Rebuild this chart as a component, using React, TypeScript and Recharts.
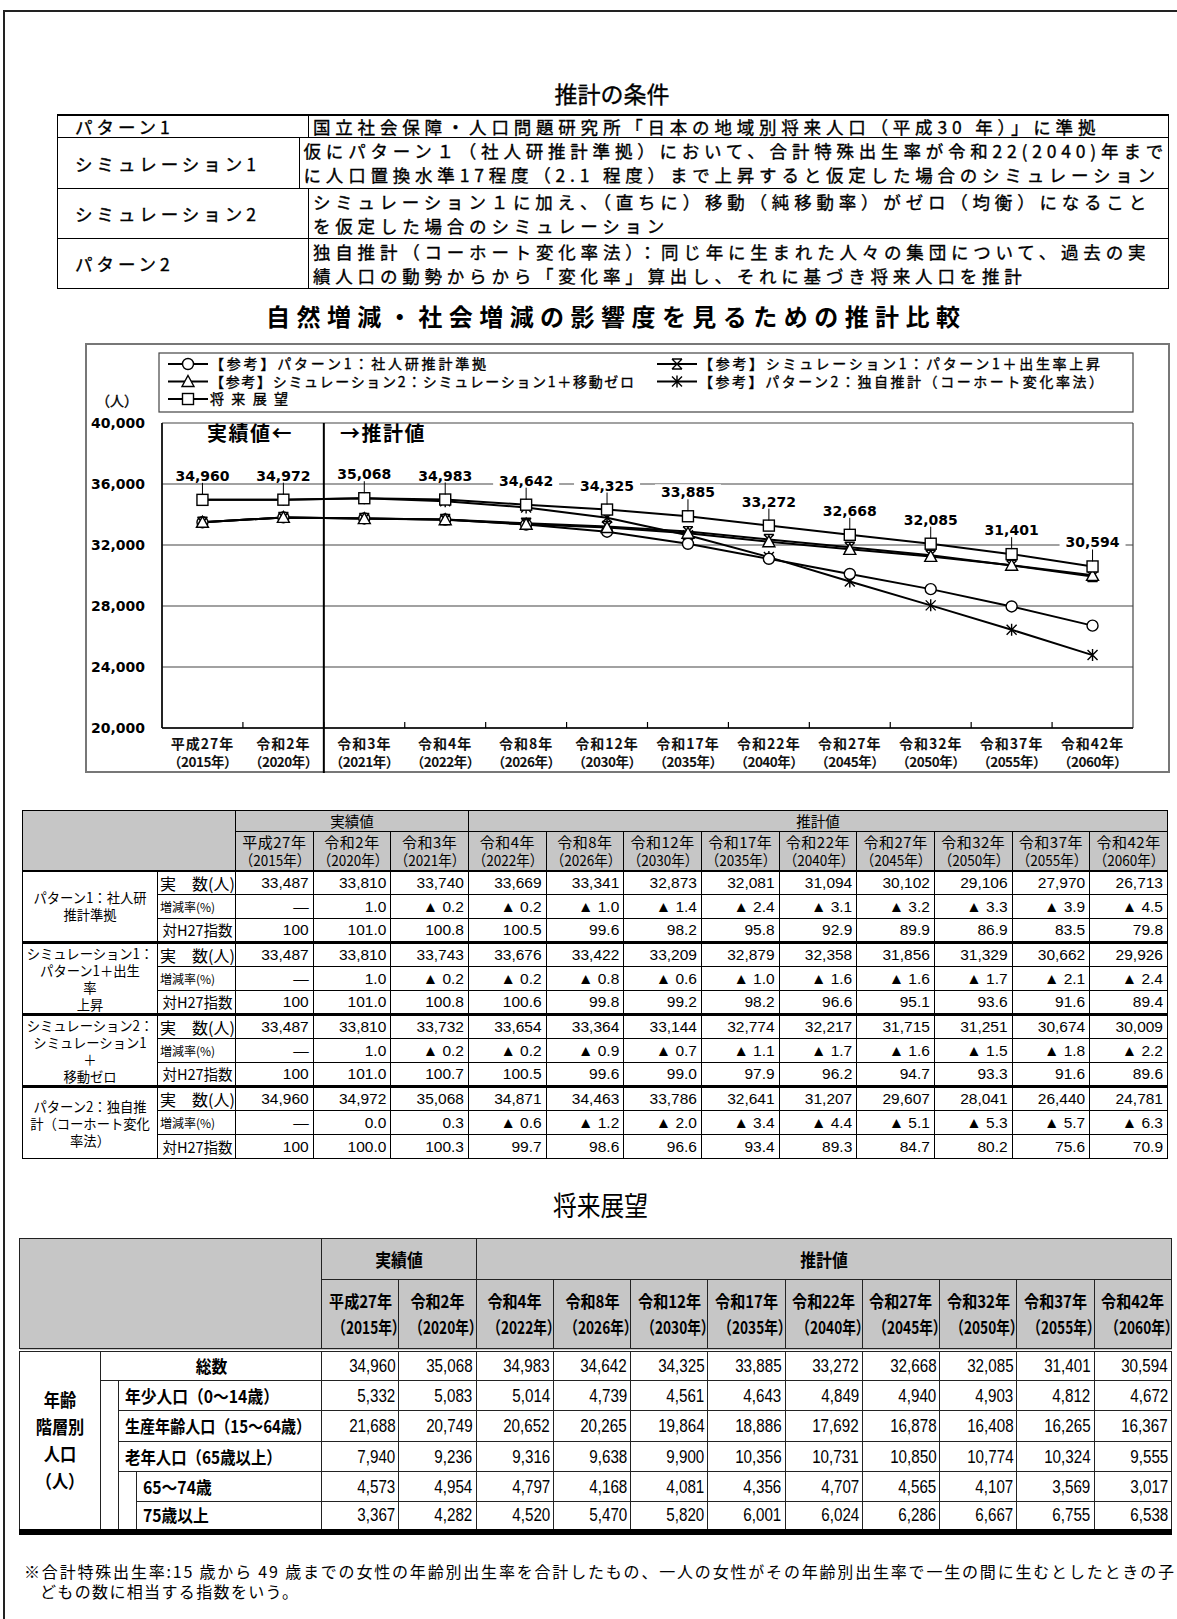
import React from "react";
import { CartesianGrid, LabelList, Line, LineChart, XAxis, YAxis } from "recharts";

const JP = '"Noto Sans CJK JP", "Noto Sans", sans-serif';
const NUM = '"Liberation Sans", Arial, sans-serif';
const DV = '"DejaVu Sans", sans-serif';

// ---- chart data (推計比較) ----
const ERA = ["平成27年", "令和2年", "令和3年", "令和4年", "令和8年", "令和12年", "令和17年", "令和22年", "令和27年", "令和32年", "令和37年", "令和42年"];
const YEARS = ["2015", "2020", "2021", "2022", "2026", "2030", "2035", "2040", "2045", "2050", "2055", "2060"];

const P1 = [33487, 33810, 33740, 33669, 33341, 32873, 32081, 31094, 30102, 29106, 27970, 26713];
const S1 = [33487, 33810, 33743, 33676, 33422, 33209, 32879, 32358, 31856, 31329, 30662, 29926];
const S2 = [33487, 33810, 33732, 33654, 33364, 33144, 32774, 32217, 31715, 31251, 30674, 30009];
const P2 = [34960, 34972, 35068, 34871, 34463, 33786, 32641, 31207, 29607, 28041, 26440, 24781];
const FUTURE = [34960, 34972, 35068, 34983, 34642, 34325, 33885, 33272, 32668, 32085, 31401, 30594];

const P1_RATE = ["—", "1.0", "▲ 0.2", "▲ 0.2", "▲ 1.0", "▲ 1.4", "▲ 2.4", "▲ 3.1", "▲ 3.2", "▲ 3.3", "▲ 3.9", "▲ 4.5"];
const S1_RATE = ["—", "1.0", "▲ 0.2", "▲ 0.2", "▲ 0.8", "▲ 0.6", "▲ 1.0", "▲ 1.6", "▲ 1.6", "▲ 1.7", "▲ 2.1", "▲ 2.4"];
const S2_RATE = ["—", "1.0", "▲ 0.2", "▲ 0.2", "▲ 0.9", "▲ 0.7", "▲ 1.1", "▲ 1.7", "▲ 1.6", "▲ 1.5", "▲ 1.8", "▲ 2.2"];
const P2_RATE = ["—", "0.0", "0.3", "▲ 0.6", "▲ 1.2", "▲ 2.0", "▲ 3.4", "▲ 4.4", "▲ 5.1", "▲ 5.3", "▲ 5.7", "▲ 6.3"];

const P1_IDX = ["100", "101.0", "100.8", "100.5", "99.6", "98.2", "95.8", "92.9", "89.9", "86.9", "83.5", "79.8"];
const S1_IDX = ["100", "101.0", "100.8", "100.6", "99.8", "99.2", "98.2", "96.6", "95.1", "93.6", "91.6", "89.4"];
const S2_IDX = ["100", "101.0", "100.7", "100.5", "99.6", "99.0", "97.9", "96.2", "94.7", "93.3", "91.6", "89.6"];
const P2_IDX = ["100", "100.0", "100.3", "99.7", "98.6", "96.6", "93.4", "89.3", "84.7", "80.2", "75.6", "70.9"];

const Y_TICKS = [20000, 24000, 28000, 32000, 36000, 40000];

// ---- 将来展望 table ----
const F_ERA = ["平成27年", "令和2年", "令和4年", "令和8年", "令和12年", "令和17年", "令和22年", "令和27年", "令和32年", "令和37年", "令和42年"];
const F_YEARS = ["2015", "2020", "2022", "2026", "2030", "2035", "2040", "2045", "2050", "2055", "2060"];
const TOTAL = [34960, 35068, 34983, 34642, 34325, 33885, 33272, 32668, 32085, 31401, 30594];
const YOUTH = [5332, 5083, 5014, 4739, 4561, 4643, 4849, 4940, 4903, 4812, 4672];
const WORKING = [21688, 20749, 20652, 20265, 19864, 18886, 17692, 16878, 16408, 16265, 16367];
const ELDERLY = [7940, 9236, 9316, 9638, 9900, 10356, 10731, 10850, 10774, 10324, 9555];
const AGE65_74 = [4573, 4954, 4797, 4168, 4081, 4356, 4707, 4565, 4107, 3569, 3017];
const AGE75 = [3367, 4282, 4520, 5470, 5820, 6001, 6024, 6286, 6667, 6755, 6538];

const COND_ROWS = [
  { label: "パターン1", lines: ["国立社会保障・人口問題研究所「日本の地域別将来人口（平成30 年）」に準拠"] },
  { label: "シミュレーション1", lines: ["仮にパターン１（社人研推計準拠）において、合計特殊出生率が令和22(2040)年まで", "に人口置換水準17程度（2.1 程度）まで上昇すると仮定した場合のシミュレーション"] },
  { label: "シミュレーション2", lines: ["シミュレーション１に加え、（直ちに）移動（純移動率）がゼロ（均衡）になること", "を仮定した場合のシミュレーション"] },
  { label: "パターン2", lines: ["独自推計（コーホート変化率法）：同じ年に生まれた人々の集団について、過去の実", "績人口の動勢からから「変化率」算出し、それに基づき将来人口を推計"] },
];

const fmt = (n: number) => n.toLocaleString("en-US");

// chart geometry (page coords)
const BOX = { left: 85, top: 343, width: 1085, height: 430 };
const PLOT_L = 162;
const PLOT_R = 1133;
const PLOT_TOP = 423 - BOX.top;
const STEP = (PLOT_R - PLOT_L) / ERA.length;

const HEAVY: React.CSSProperties = { WebkitTextStroke: "0.35px #000" } as React.CSSProperties;

type MarkerKind = "circle" | "hour" | "triangle" | "star" | "square";

function Marker({ kind, cx, cy }: { kind: MarkerKind; cx: number; cy: number }) {
  const s = 5.5;
  if (kind === "circle") return <circle cx={cx} cy={cy} r={s} fill="#fff" stroke="#000" strokeWidth={1.4} />;
  if (kind === "square")
    return <rect x={cx - s} y={cy - s} width={s * 2} height={s * 2} fill="#fff" stroke="#000" strokeWidth={1.4} />;
  if (kind === "triangle")
    return <path d={`M${cx},${cy - 6} L${cx + 6},${cy + 5} L${cx - 6},${cy + 5} Z`} fill="#fff" stroke="#000" strokeWidth={1.4} />;
  if (kind === "hour")
    return (
      <path
        d={`M${cx - 5},${cy - 5} L${cx + 5},${cy + 5} M${cx + 5},${cy - 5} L${cx - 5},${cy + 5} M${cx - 5},${cy - 5} H${cx + 5} M${cx - 5},${cy + 5} H${cx + 5}`}
        fill="none"
        stroke="#000"
        strokeWidth={1.4}
      />
    );
  return (
    <path
      d={`M${cx - 5},${cy - 5} L${cx + 5},${cy + 5} M${cx + 5},${cy - 5} L${cx - 5},${cy + 5} M${cx},${cy - 6} V${cy + 6}`}
      fill="none"
      stroke="#000"
      strokeWidth={1.4}
    />
  );
}

const SERIES: { key: string; name: string; kind: MarkerKind; values: number[] }[] = [
  { key: "p2", name: "【参考】パターン2：独自推計（コーホート変化率法）", kind: "star", values: P2 },
  { key: "p1", name: "【参考】パターン1：社人研推計準拠", kind: "circle", values: P1 },
  { key: "s1", name: "【参考】シミュレーション1：パターン1＋出生率上昇", kind: "hour", values: S1 },
  { key: "s2", name: "【参考】シミュレーション2：シミュレーション1＋移動ゼロ", kind: "triangle", values: S2 },
  { key: "future", name: "将来展望", kind: "square", values: FUTURE },
];

// legend slots: [series key, column, row, text width]
const LEGEND_SLOTS: [string, number, number, number][] = [
  ["p1", 0, 0, 276],
  ["s1", 1, 0, 401],
  ["s2", 0, 1, 424],
  ["p2", 1, 1, 404],
  ["future", 0, 2, 78],
];

function XTick(props: any) {
  const { x, y, payload, index } = props;
  const i = ERA.indexOf(payload.value);
  const bx = x - STEP / 2;
  return (
    <g>
      {index > 0 && <line x1={bx} x2={bx} y1={y} y2={y - 6} stroke="#000" strokeWidth={1.2} />}
      {index === 2 && <line x1={bx} x2={bx} y1={PLOT_TOP} y2={y + 58} stroke="#000" strokeWidth={2} />}
      <text x={x} y={y + 21} textAnchor="middle" fontSize={14} fontWeight={700} fontFamily={JP} fill="#111" letterSpacing={1}>
        {ERA[i]}
      </text>
      <text x={x} y={y + 39} textAnchor="middle" fontSize={13.5} fontWeight={700} fontFamily={JP} fill="#111" letterSpacing={-0.5}>
        （{YEARS[i]}年）
      </text>
    </g>
  );
}

function FutureLabel(props: any) {
  const { x, y, value } = props;
  const ly = y - 24;
  return (
    <g>
      <line x1={x} y1={ly + 5} x2={x} y2={y - 5} stroke="#000" strokeWidth={1} />
      <rect x={x - 33} y={ly - 8} width={66} height={15} fill="#fff" />
      <text x={x} y={ly + 5} textAnchor="middle" fontFamily={DV} fontWeight={700} fontSize={14} fill="#000">
        {fmt(Number(value))}
      </text>
    </g>
  );
}

function ComparisonChart() {
  const data = ERA.map((cat, i) => {
    const row: Record<string, number | string> = { cat };
    SERIES.forEach((s) => (row[s.key] = s.values[i]));
    return row;
  });
  return (
    <>
      <svg width={720} height={40} style={{ position: "absolute", left: 262, top: 298, display: "block" }}>
        <text x={4} y={28} fontSize={24} fontWeight={700} fontFamily={JP} textLength={694} lengthAdjust="spacing">
          自然増減・社会増減の影響度を見るための推計比較
        </text>
      </svg>
      <div
        style={{
          position: "absolute",
          left: BOX.left,
          top: BOX.top,
          width: BOX.width,
          height: BOX.height,
          border: "2px solid #777",
          boxSizing: "border-box",
        }}
      />
      <div style={{ position: "absolute", left: BOX.left, top: BOX.top }}>
        <LineChart
          width={BOX.width}
          height={BOX.height}
          data={data}
          margin={{ top: PLOT_TOP, right: BOX.left + BOX.width - PLOT_R, bottom: 5, left: PLOT_L - BOX.left - 60 }}
          style={{ overflow: "visible" }}
        >
          <CartesianGrid
            stroke="#444"
            strokeWidth={1.2}
            verticalCoordinatesGenerator={({ offset }: any) => [offset.left, offset.left + offset.width]}
          />
          <XAxis
            dataKey="cat"
            interval={0}
            tick={(p: any) => <XTick {...p} />}
            tickLine={false}
            tickSize={0}
            tickMargin={0}
            axisLine={{ stroke: "#000", strokeWidth: 1.5 }}
            padding={{ left: STEP / 2, right: STEP / 2 }}
            height={40}
          />
          <YAxis
            type="number"
            domain={[20000, 40000]}
            ticks={Y_TICKS}
            width={60}
            axisLine={{ stroke: "#000", strokeWidth: 1.5 }}
            tickLine={false}
            tickSize={0}
            tickMargin={17}
            tickFormatter={(v) => fmt(Number(v))}
            tick={{ fontSize: 14, fontWeight: 700, fontFamily: DV, fill: "#000" }}
          />
          {SERIES.map((s) => (
            <Line
              key={s.key}
              dataKey={s.key}
              type="linear"
              stroke="#000"
              strokeWidth={2}
              isAnimationActive={false}
              activeDot={false}
              dot={(p: any) => <Marker key={`${s.key}-${p.index}`} kind={s.kind} cx={p.cx} cy={p.cy} />}
            >
              {s.key === "future" && <LabelList dataKey="future" content={(p: any) => <FutureLabel {...p} />} />}
            </Line>
          ))}
        </LineChart>
      </div>
      {/* legend */}
      <svg width={976} height={61} style={{ position: "absolute", left: 158, top: 352 }}>
        <rect x={1} y={1} width={974} height={59} fill="#fff" stroke="#444" strokeWidth={1.2} />
        {LEGEND_SLOTS.map(([key, col, row, tw]) => {
          const s = SERIES.find((d) => d.key === key)!;
          const mx = col === 0 ? 10 : 499;
          const cy = 12 + row * 17.5;
          return (
            <g key={key}>
              <line x1={mx} x2={mx + 40} y1={cy} y2={cy} stroke="#000" strokeWidth={2} />
              <Marker kind={s.kind} cx={mx + 20} cy={cy} />
              <text
                x={mx + 42}
                y={cy + 5}
                fontSize={14}
                fontFamily={JP}
                stroke="#000"
                strokeWidth={0.35}
                textLength={tw}
                lengthAdjust="spacing"
              >
                {s.name}
              </text>
            </g>
          );
        })}
      </svg>
      <div style={{ position: "absolute", left: 96, top: 390, fontSize: 14, fontFamily: JP, ...HEAVY }}>（人）</div>
      <div style={{ position: "absolute", left: 207, top: 418, fontSize: 20, fontWeight: 700, fontFamily: JP, letterSpacing: 1.5 }}>
        実績値←
      </div>
      <div style={{ position: "absolute", left: 340, top: 418, fontSize: 20, fontWeight: 700, fontFamily: JP, letterSpacing: 1.5 }}>
        →推計値
      </div>
    </>
  );
}

function ConditionSection() {
  const rowH = [24, 51, 50, 50];
  let top = 114;
  return (
    <>
      <div style={{ position: "absolute", left: 512, top: 79, width: 200, textAlign: "center", fontSize: 23, lineHeight: "28px", ...HEAVY }}>
        推計の条件
      </div>
      {COND_ROWS.map((r, i) => {
        const t = top;
        top += rowH[i];
        return (
          <div
            key={r.label}
            style={{
              position: "absolute",
              left: 57,
              top: t,
              width: 1112,
              height: rowH[i],
              boxSizing: "border-box",
              border: "1.5px solid #000",
              borderTopWidth: i === 0 ? 2 : 0,
              display: "flex",
              ...HEAVY,
            }}
          >
            <div
              style={{
                width: 251,
                borderRight: "1.5px solid #000",
                display: "flex",
                alignItems: "center",
                paddingLeft: 17,
                fontSize: 17.5,
                letterSpacing: 4,
                boxSizing: "border-box",
              }}
            >
              {r.label}
            </div>
            <div style={{ paddingLeft: 4, display: "flex", flexDirection: "column", justifyContent: "center" }}>
              {r.lines.map((l) => (
                <div key={l} style={{ fontSize: 17.5, letterSpacing: 4.8, lineHeight: "24px", whiteSpace: "nowrap" }}>
                  {l}
                </div>
              ))}
            </div>
          </div>
        );
      })}
    </>
  );
}

const HEAD_BG = "#c6c6c6";

function Sq({ k, origin = "center", children }: { k: number; origin?: string; children: React.ReactNode }) {
  return (
    <span style={{ display: "inline-block", transform: `scaleX(${k})`, transformOrigin: origin, whiteSpace: "nowrap" }}>
      {children}
    </span>
  );
}

function ComparisonTable() {
  const groups = [
    { label: ["パターン1：社人研", "推計準拠"], count: P1, rate: P1_RATE, idx: P1_IDX },
    { label: ["シミュレーション1：", "パターン1＋出生", "率", "上昇"], count: S1, rate: S1_RATE, idx: S1_IDX },
    { label: ["シミュレーション2：", "シミュレーション1", "＋", "移動ゼロ"], count: S2, rate: S2_RATE, idx: S2_IDX },
    { label: ["パターン2：独自推", "計（コーホート変化", "率法）"], count: P2, rate: P2_RATE, idx: P2_IDX },
  ];
  const cell: React.CSSProperties = { border: "1px solid #000", padding: 0, overflow: "hidden" };
  const sub = [
    { text: "実　数(人)", size: 16, align: "left" as const },
    { text: "増減率(%)", size: 12, align: "left" as const },
    { text: "対H27指数", size: 14.5, align: "center" as const },
  ];
  return (
    <table
      style={{
        position: "absolute",
        left: 22,
        top: 810,
        width: 1146,
        tableLayout: "fixed",
        borderCollapse: "collapse",
        fontFamily: JP,
        border: "1.5px solid #000",
      }}
    >
      <colgroup>
        <col style={{ width: 135 }} />
        <col style={{ width: 78 }} />
        {ERA.map((e) => (
          <col key={e} />
        ))}
      </colgroup>
      <thead>
        <tr style={{ height: 21 }}>
          <th rowSpan={2} colSpan={2} style={{ ...cell, background: HEAD_BG, borderBottom: "2.5px solid #000" }} />
          <th colSpan={3} style={{ ...cell, background: HEAD_BG, fontSize: 14.5, fontWeight: 400, lineHeight: "18px" }}>
            実績値
          </th>
          <th colSpan={9} style={{ ...cell, background: HEAD_BG, fontSize: 14.5, fontWeight: 400, lineHeight: "18px" }}>
            推計値
          </th>
        </tr>
        <tr style={{ height: 39 }}>
          {ERA.map((e, i) => (
            <th
              key={e}
              style={{ ...cell, background: HEAD_BG, fontSize: 15, fontWeight: 400, lineHeight: "18px", borderBottom: "2.5px solid #000", whiteSpace: "nowrap" }}
            >
              <div style={{ letterSpacing: 0.5, height: 18 }}>{e}</div>
              <div style={{ height: 18, transform: "scaleX(0.9)" }}>（{YEARS[i]}年）</div>
            </th>
          ))}
        </tr>
      </thead>
      <tbody>
        {groups.map((g, gi) =>
          [g.count.map(fmt), g.rate, g.idx].map((vals, ri) => (
            <tr key={`${gi}-${ri}`} style={{ height: 24 }}>
              {ri === 0 && (
                <td
                  rowSpan={3}
                  style={{
                    ...cell,
                    borderTop: gi > 0 ? "3px solid #000" : cell.border,
                    textAlign: "center",
                    fontSize: 14,
                    lineHeight: "17px",
                    whiteSpace: "nowrap",
                    overflow: "visible",
                  }}
                >
                  {g.label.map((l) => (
                    <div key={l} style={{ height: 17, transform: "scaleX(0.95)" }}>
                      {l}
                    </div>
                  ))}
                </td>
              )}
              <td
                style={{
                  ...cell,
                  borderTop: ri === 0 && gi > 0 ? "3px solid #000" : cell.border,
                  fontSize: sub[ri].size,
                  lineHeight: "20px",
                  textAlign: sub[ri].align,
                  paddingLeft: 2,
                  whiteSpace: "nowrap",
                }}
              >
                {sub[ri].text}
              </td>
              {vals.map((v, ci) => (
                <td
                  key={ci}
                  style={{
                    ...cell,
                    borderTop: ri === 0 && gi > 0 ? "3px solid #000" : cell.border,
                    textAlign: "right",
                    paddingRight: 4,
                    fontFamily: NUM,
                    fontSize: 15.5,
                    lineHeight: "20px",
                  }}
                >
                  {v}
                </td>
              ))}
            </tr>
          ))
        )}
      </tbody>
    </table>
  );
}

function FutureTable() {
  const line = "1.5px solid #222";
  const cell: React.CSSProperties = { border: line, padding: 0 };
  const num = (v: number, i: number) => (
    <td key={i} style={{ ...cell, textAlign: "right", paddingRight: 3, fontFamily: NUM, fontSize: 18.5, lineHeight: "24px" }}>
      <Sq k={0.82} origin="right">
        {fmt(v)}
      </Sq>
    </td>
  );
  const lab: React.CSSProperties = { ...cell, fontWeight: 700, fontSize: 17.5, lineHeight: "24px", paddingLeft: 6, textAlign: "left" };
  const blank: React.CSSProperties = { borderLeft: line, borderRight: "none", padding: 0 };
  return (
    <>
      <div style={{ position: "absolute", left: 553, top: 1188, fontSize: 27, lineHeight: "34px" }}>
        <Sq k={0.88} origin="left">
          将来展望
        </Sq>
      </div>
      <table
        style={{
          position: "absolute",
          left: 19,
          top: 1238,
          width: 1153,
          tableLayout: "fixed",
          borderCollapse: "collapse",
          fontFamily: JP,
          borderTop: line,
          borderBottom: "6px solid #000",
        }}
      >
        <colgroup>
          <col style={{ width: 81 }} />
          <col style={{ width: 18 }} />
          <col style={{ width: 18 }} />
          <col style={{ width: 185 }} />
          {F_ERA.map((e) => (
            <col key={e} />
          ))}
        </colgroup>
        <thead>
          <tr style={{ height: 41 }}>
            <th rowSpan={2} colSpan={4} style={{ ...cell, background: HEAD_BG, borderBottom: "4px double #222" }} />
            <th colSpan={2} style={{ ...cell, background: HEAD_BG, fontSize: 18 }}>
              <Sq k={0.88}>実績値</Sq>
            </th>
            <th colSpan={9} style={{ ...cell, background: HEAD_BG, fontSize: 18 }}>
              <Sq k={0.88}>推計値</Sq>
            </th>
          </tr>
          <tr style={{ height: 70 }}>
            {F_ERA.map((e, i) => (
              <th key={e} style={{ ...cell, background: HEAD_BG, fontSize: 17.5, lineHeight: "26px", borderBottom: "4px double #222" }}>
                <div>
                  <Sq k={0.86}>{e}</Sq>
                </div>
                <div>
                  <Sq k={0.78}>（{F_YEARS[i]}年）</Sq>
                </div>
              </th>
            ))}
          </tr>
        </thead>
        <tbody>
          <tr style={{ height: 31 }}>
            <td rowSpan={6} style={{ ...cell, borderBottom: "none", textAlign: "center", fontWeight: 700, fontSize: 18, lineHeight: "27px" }}>
              <Sq k={0.9}>
                <div>年齢</div>
                <div>階層別</div>
                <div>人口</div>
                <div>（人）</div>
              </Sq>
            </td>
            <td colSpan={3} style={{ ...lab, textAlign: "center", paddingLeft: 0 }}>
              <Sq k={0.9}>総数</Sq>
            </td>
            {TOTAL.map(num)}
          </tr>
          <tr style={{ height: 30 }}>
            <td rowSpan={5} style={blank} />
            <td colSpan={2} style={lab}>
              <Sq k={0.9} origin="left">
                年少人口（0〜14歳）
              </Sq>
            </td>
            {YOUTH.map(num)}
          </tr>
          <tr style={{ height: 31 }}>
            <td colSpan={2} style={lab}>
              <Sq k={0.86} origin="left">
                生産年齢人口（15〜64歳）
              </Sq>
            </td>
            {WORKING.map(num)}
          </tr>
          <tr style={{ height: 30 }}>
            <td colSpan={2} style={lab}>
              <Sq k={0.88} origin="left">
                老年人口（65歳以上）
              </Sq>
            </td>
            {ELDERLY.map(num)}
          </tr>
          <tr style={{ height: 30 }}>
            <td rowSpan={2} style={blank} />
            <td style={lab}>
              <Sq k={0.9} origin="left">
                65〜74歳
              </Sq>
            </td>
            {AGE65_74.map(num)}
          </tr>
          <tr style={{ height: 30 }}>
            <td style={lab}>
              <Sq k={0.9} origin="left">
                75歳以上
              </Sq>
            </td>
            {AGE75.map(num)}
          </tr>
        </tbody>
      </table>
    </>
  );
}

function Footnote() {
  return (
    <svg width={1177} height={44} style={{ position: "absolute", left: 0, top: 1559 }}>
      <text x={24} y={19} fontSize={16} fontFamily={JP} textLength={1150} lengthAdjust="spacing">
        ※合計特殊出生率:15 歳から 49 歳までの女性の年齢別出生率を合計したもの、一人の女性がその年齢別出生率で一生の間に生むとしたときの子
      </text>
      <text x={40} y={39} fontSize={16} fontFamily={JP} textLength={258} lengthAdjust="spacing">
        どもの数に相当する指数をいう。
      </text>
    </svg>
  );
}

export default function App() {
  return (
    <div
      style={{
        position: "absolute",
        left: 0,
        top: 0,
        width: 1177,
        height: 1619,
        background: "#fff",
        overflow: "hidden",
        fontFamily: JP,
        color: "#000",
      }}
    >
      <div
        style={{
          position: "absolute",
          left: 3,
          top: 10,
          width: 1300,
          height: 1700,
          borderLeft: "2px solid #222",
          borderTop: "2px solid #222",
        }}
      />
      <ConditionSection />
      <ComparisonChart />
      <ComparisonTable />
      <FutureTable />
      <Footnote />
    </div>
  );
}
